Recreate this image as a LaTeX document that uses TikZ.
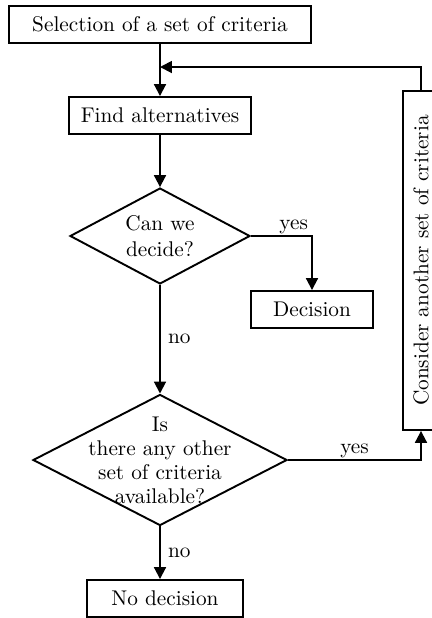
\documentclass[tikz,border=0pt]{standalone}
\usepackage{amsmath, amssymb}
\usepackage{tikz}
\usetikzlibrary{shapes.geometric, arrows.meta}

\tikzset{
  box/.style={draw, line width=0.9pt, minimum height=17.4pt, inner sep=2pt},
  choice/.style={draw, line width=0.9pt, shape=diamond, align=center, aspect=1.9, inner sep=-12pt},
  flow/.style={line width=0.9pt, -{Triangle[length=5.6pt,width=5.6pt]}},
  answer/.style={inner sep=0.6pt},
}

\begin{document}
\begin{tikzpicture}[x=0.47pt,y=0.47pt,yscale=-1,xscale=1]
    %set diagram frame: 432 wide, 618 high
    \useasboundingbox (0,0) rectangle (432,618);

    %Shape: Rectangle
    \node [box, minimum width=142pt] (select) at (160,24.5) {Selection of a set of criteria};
    %Shape: Rectangle
    \node [box, minimum width=85.5pt] (find) at (160,115.5) {Find alternatives};
    %Shape: Diamond
    \node [choice, minimum width=84.6pt, minimum height=45.1pt] (canwe) at (160,236) {Can we\\decide?};
    %Shape: Rectangle
    \node [box, minimum width=57.3pt] (decision) at (312,309.5) {Decision};
    %Shape: Diamond
    \node [choice, minimum width=119.4pt, minimum height=61.6pt, font={\setlength\baselineskip{11.3pt}}] (other) at (160,460) {Is\\there any other\\set of criteria\\available?};
    %Shape: Rectangle (rotated)
    \node [box, minimum width=159.3pt, minimum height=17.2pt, rotate=90] (consider) at (421,260.5) {Consider another set of criteria};
    %Shape: Rectangle
    \node [box, minimum width=72.9pt] (nodecision) at (165,598.5) {No decision};

    %Merge point of the loop
    \coordinate (merge) at (160,67);

    %Straight Lines
    \draw [flow] (select) -- (find);
    \draw [flow] (find) -- (canwe);
    \draw [flow] (canwe.east) -| node [answer, above, pos=0.35] {yes} (decision.north);
    \draw [flow] (canwe) -- node [right] {no} (other);
    \draw [flow] (other.east) -| node [answer, above, pos=0.25] {yes} (consider.west);
    \draw [flow] (consider.east) |- (merge);
    \draw [flow] (other.south) -- node [right] {no} (other.south |- nodecision.north);

\end{tikzpicture}
\end{document}
